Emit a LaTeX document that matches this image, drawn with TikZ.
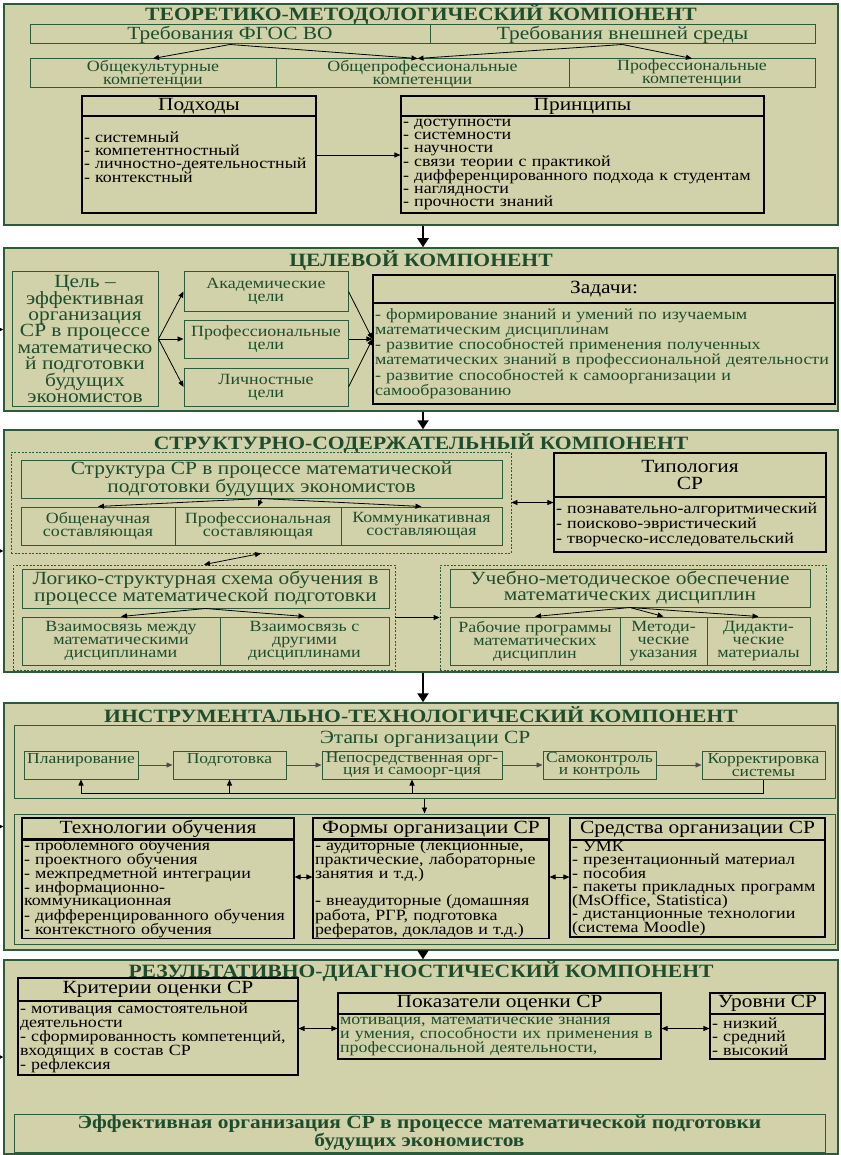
\documentclass[tikz,border=0pt]{standalone}
\usepackage{fontspec}
\setmainfont{Liberation Serif}[FakeStretch=1.15]
\usetikzlibrary{arrows.meta}

\definecolor{olivebg}{HTML}{D2D2AA}
\definecolor{darkgreen}{HTML}{2B5B3A}
\definecolor{textgreen}{HTML}{1E4D2E}

\newcommand\tightlines{\lineskiplimit=0pt\lineskip=0pt}
\newcommand\fbig{\fontsize{18.6}{16.2}\selectfont\tightlines}
\newcommand\fsmall{\fontsize{15.6}{13}\selectfont\tightlines}
\newcommand\fstage{\fontsize{15.2}{12.4}\selectfont\tightlines}
\newcommand\ftitle{\fontsize{18.8}{18}\selectfont\bfseries}

\tikzset{
  section/.style={draw=darkgreen, line width=1.5pt, fill=olivebg, inner sep=0pt},
  comptitle/.style={font=\ftitle, text=textgreen, inner sep=0pt},
  gbox/.style={draw=darkgreen, line width=1pt, text=textgreen, align=center, inner sep=0.5pt},
  stage/.style={gbox, font=\fstage, minimum height=28, inner sep=0pt},
  group/.style={draw=darkgreen, line width=0.8pt, dash pattern=on 2pt off 1.5pt, inner sep=0pt},
  bhead/.style={draw=black, line width=1.1pt, text=black, font=\fbig, align=center, inner sep=0.5pt},
  bbody/.style={draw=black, line width=1.1pt, text=black, font=\fsmall, align=left, inner xsep=2pt, inner ysep=0.5pt},
  arr/.style={line width=0.8pt, -{Triangle[length=6pt,width=5pt]}},
  garr/.style={arr, draw=black!70},
  darr/.style={line width=0.8pt, {Triangle[length=6pt,width=5pt]}-{Triangle[length=6pt,width=5pt]}},
  inarr/.style={line width=0.8pt, -{Triangle[length=4pt,width=4pt]}},
  bigarr/.style={line width=2.5pt, -{Triangle[length=9pt,width=11pt]}},
}

\begin{document}
\begin{tikzpicture}[x=1pt,y=-1pt]
\useasboundingbox (0,0) rectangle (840,1155);
\fill[white] (0,0) rectangle (840,1155);

% components
\node[section, minimum width=834, minimum height=221] (s1) at (421,114.5) {};
\node[section, minimum width=834, minimum height=163] (s2) at (421,329.5) {};
\node[section, minimum width=834, minimum height=242] (s3) at (421,551) {};
\node[section, minimum width=834, minimum height=247] (s4) at (421,826.5) {};
\node[section, minimum width=834, minimum height=194] (s5) at (421,1057) {};

\foreach \s in {s2,s3,s4,s5}
  \draw[inarr] (\s.west) ++(-4,0) -- (\s.west);

\draw[bigarr] ([xshift=2pt]s1.south) -- ([xshift=2pt]s2.north);
\draw[bigarr] ([xshift=2pt]s2.south) -- ([xshift=2pt]s3.north);
\draw[bigarr] ([xshift=2pt]s3.south) -- ([xshift=2pt]s4.north);
\draw[bigarr] ([xshift=2pt]s4.south) -- ([xshift=2pt]s5.north);

% 1
\node[comptitle] (t1) at (421,15) {ТЕОРЕТИКО-МЕТОДОЛОГИЧЕСКИЙ КОМПОНЕНТ};
\node[gbox, font=\fbig, minimum width=400, minimum height=19, inner sep=0pt] (fgos) at (230,34.5) {Требования ФГОС ВО};
\node[gbox, font=\fbig, minimum width=385, minimum height=19, inner sep=0pt] (env) at (622.5,34.5) {Требования внешней среды};
\node[gbox, font=\fontsize{15.6}{13}\selectfont\tightlines, minimum width=246, minimum height=29, inner sep=0pt] (ok) at (153,73.5) {Общекультурные\\компетенции};
\node[gbox, font=\fontsize{15.6}{13}\selectfont\tightlines, minimum width=293, minimum height=29, inner sep=0pt] (opk) at (422.5,73.5) {Общепрофессиональные\\компетенции};
\node[gbox, font=\fontsize{15.6}{13}\selectfont\tightlines, minimum width=246, minimum height=29, inner sep=0pt] (pk) at (692,73.5) {Профессиональные\\компетенции};
\draw[arr] (fgos.south) -- (ok.north);
\draw[arr] (fgos.south) -- ([xshift=-5pt]opk.north);
\draw[arr] (env.south) -- ([xshift=-5pt]opk.north);
\draw[arr] (env.south) -- (pk.north);

\node[bhead, minimum width=234, minimum height=20] (aphead) at (199,106) {Подходы};
\node[bbody, text width=230, minimum height=97] (apbody) at (199,164.5) {- системный\\- компетентностный\\- личностно-деятельностный\\- контекстный\\[2pt]\mbox{}};
\node[bhead, minimum width=363, minimum height=20] (prhead) at (582.5,106) {Принципы};
\node[bbody, text width=359, minimum height=97] (prbody) at (582.5,164.5) {- доступности\\- системности\\- научности\\- связи теории с практикой\\- дифференцированного подхода к студентам\\- наглядности\\- прочности знаний};
\draw[arr] ([yshift=9.5pt]apbody.east) -- ([yshift=9.5pt]prbody.west);

% 2
\node[comptitle] (t2) at (421,261) {ЦЕЛЕВОЙ КОМПОНЕНТ};
\node[gbox, font=\fbig, minimum width=146, minimum height=134, inner sep=0pt] (goal) at (85,339) {Цель –\\эффективная\\организация\\СР в процессе\\математическо\\й подготовки\\будущих\\экономистов};
\node[gbox, font=\fsmall, minimum width=164, minimum height=39] (acad) at (266,291.5) {Академические\\цели};
\node[gbox, font=\fsmall, minimum width=164, minimum height=38] (prof) at (266,339) {Профессиональные\\цели};
\node[gbox, font=\fsmall, minimum width=164, minimum height=38] (pers) at (266,387) {Личностные\\цели};
\draw[arr] (goal.east) -- (acad.west);
\draw[arr] (goal.east) -- (prof.west);
\draw[arr] (goal.east) -- (pers.west);

\node[bhead, minimum width=462, minimum height=28] (zhead) at (604,289) {Задачи:};
\node[bbody, text=textgreen, font=\fontsize{15.6}{15.2}\selectfont\tightlines, text width=458, minimum height=101] (zbody) at (604,353.5) {- формирование знаний и умений по изучаемым\\математическим дисциплинам\\- развитие способностей применения полученных\\математических знаний в профессиональной деятельности\\- развитие способностей к самоорганизации и\\самообразованию};
\draw[arr] (acad.east) -- (zbody.west |- prof.east);
\draw[arr] (prof.east) -- (zbody.west |- prof.east);
\draw[arr] (pers.east) -- (zbody.west |- prof.east);

% 3
\node[comptitle] (t3) at (421,443) {СТРУКТУРНО-СОДЕРЖАТЕЛЬНЫЙ КОМПОНЕНТ};
\node[group, minimum width=500, minimum height=101] (g1) at (261,502.5) {};
\node[gbox, font=\fbig, minimum width=481, minimum height=38, inner sep=0pt] (struct) at (261.5,479) {Структура СР в процессе математической\\подготовки будущих экономистов};
\node[gbox, font=\fsmall, minimum width=154, minimum height=38] (gen) at (98,526) {Общенаучная\\составляющая};
\node[gbox, font=\fsmall, minimum width=166, minimum height=38] (prc) at (258,526) {Профессиональная\\составляющая};
\node[gbox, font=\fsmall, minimum width=161, minimum height=38] (com) at (421.5,526) {Коммуникативная\\составляющая};
\draw[arr] (struct.south) -- (gen.north);
\draw[arr] (struct.south) -- (prc.north);
\draw[arr] (struct.south) -- (com.north);

\node[bhead, minimum width=272, minimum height=44] (typhead) at (690,475) {Типология\\СР};
\node[bbody, font=\fontsize{15.6}{15}\selectfont\tightlines, text width=268, minimum height=55] (typbody) at (690,524.5) {- познавательно-алгоритмический\\- поисково-эвристический\\- творческо-исследовательский};
\draw[darr] (g1.east) -- (typbody.west |- g1.east);

\node[group, minimum width=382, minimum height=105] (g2) at (204,617.5) {};
\node[gbox, font=\fbig, minimum width=367, minimum height=39, inner sep=0pt] (logic) at (205.5,588.5) {Логико-структурная схема обучения в\\процессе математической подготовки};
\node[gbox, font=\fsmall, minimum width=198, minimum height=48] (link1) at (121,641) {Взаимосвязь между\\математическими\\дисциплинами};
\node[gbox, font=\fsmall, minimum width=169, minimum height=48] (link2) at (304.5,641) {Взаимосвязь с\\другими\\дисциплинами};
\draw[arr] (logic.south) -- (link1.north);
\draw[arr] (logic.south) -- (link2.north);
\draw[darr] (g1.south) -- (g2.north);

\node[group, minimum width=386, minimum height=105] (g3) at (633,617.5) {};
\node[gbox, font=\fbig, minimum width=360, minimum height=38, inner sep=0pt] (umo) at (630,588) {Учебно-методическое обеспечение\\математических дисциплин};
\node[gbox, font=\fsmall, minimum width=170, minimum height=48] (prog) at (535,641) {Рабочие программы\\математических\\дисциплин};
\node[gbox, font=\fsmall, minimum width=87, minimum height=48] (meth) at (663.5,641) {Методи-\\ческие\\указания};
\node[gbox, font=\fsmall, minimum width=103, minimum height=48] (did) at (758.5,641) {Дидакти-\\ческие\\материалы};
\draw[arr] (umo.south) -- (prog.north);
\draw[arr] (umo.south) -- (meth.north);
\draw[arr] (umo.south) -- (did.north);
\draw[arr] (g2.east) -- (g3.west);

% 4
\node[comptitle] (t4) at (421,715) {ИНСТРУМЕНТАЛЬНО-ТЕХНОЛОГИЧЕСКИЙ КОМПОНЕНТ};
\node[gbox, minimum width=821, minimum height=73] (stages) at (424.5,761.5) {};
\node[text=textgreen, font=\fbig, inner sep=0pt] (stlabel) at (425,739) {Этапы организации СР};
\node[stage, minimum width=114] (plan) at (81,765) {Планирование\\\mbox{}};
\node[stage, minimum width=113] (prep) at (229.5,765) {Подготовка\\\mbox{}};
\node[stage, minimum width=180] (direct) at (412,765) {Непосредственная орг-\\ция и самоорг-ция};
\node[stage, minimum width=113] (selfc) at (599.5,765) {Самоконтроль\\и контроль};
\node[stage, minimum width=123] (corr) at (763.5,765) {Корректировка\\системы};
\draw[garr] (plan.east) -- (prep.west);
\draw[garr] (prep.east) -- (direct.west);
\draw[garr] (direct.east) -- (selfc.west);
\draw[garr] (selfc.east) -- (corr.west);
\draw[arr] (corr.south) -- ++(0,14) -| (plan.south);
\draw[arr] ([yshift=-14pt]prep.south) -- (prep.south);
\draw[arr] ([yshift=-14pt]direct.south) -- (direct.south);

\node[gbox, minimum width=821, minimum height=130] (tools) at (424.5,879) {};
\draw[arr] (stages.south) -- (tools.north);

\node[bhead, minimum width=272, minimum height=22] (thead) at (158,829) {Технологии обучения};
\node[bbody, text width=268, minimum height=97] (tbody) at (158,888.5) {- проблемного обучения\\- проектного обучения\\- межпредметной интеграции\\- информационно-\\коммуникационная\\- дифференцированного обучения\\- контекстного обучения};
\node[bhead, minimum width=236, minimum height=22] (fhead) at (431,829) {Формы организации СР};
\node[bbody, text width=232, minimum height=97] (fbody) at (431,888.5) {- аудиторные (лекционные,\\практические, лабораторные\\занятия и т.д.)\\[13pt]- внеаудиторные (домашняя\\работа, РГР, подготовка\\рефератов, докладов и т.д.)};
\node[bhead, minimum width=255, minimum height=22] (shead) at (697.5,829) {Средства организации СР};
\node[bbody, text width=251, minimum height=97] (sbody) at (697.5,888.5) {- УМК\\- презентационный материал\\- пособия\\- пакеты прикладных программ\\(MsOffice, Statistica)\\- дистанционные технологии\\(система Moodle)};
\draw[darr] ([yshift=11.5pt]tbody.east) -- ([yshift=11.5pt]fbody.west);
\draw[darr] ([yshift=11.5pt]fbody.east) -- ([yshift=11.5pt]sbody.west);

% 5
\node[comptitle] (t5) at (421,971) {РЕЗУЛЬТАТИВНО-ДИАГНОСТИЧЕСКИЙ КОМПОНЕНТ};
\node[bhead, minimum width=280, minimum height=23] (khead) at (158,989.5) {Критерии оценки СР};
\node[bbody, font=\fontsize{15.6}{14}\selectfont\tightlines, text width=276, minimum height=74] (kbody) at (158,1038) {- мотивация самостоятельной\\деятельности\\- сформированность компетенций,\\входящих в состав СР\\- рефлексия};
\node[bhead, minimum width=323, minimum height=21] (phead) at (499.5,1003.5) {Показатели оценки СР};
\node[bbody, text=textgreen, font=\fontsize{15.6}{12.6}\selectfont\tightlines, text width=319, minimum height=45] (pbody) at (499.5,1036.5) {мотивация, математические знания\\и умения, способности их применения в\\профессиональной деятельности,};
\node[bhead, minimum width=115, minimum height=21] (lhead) at (767.5,1003.5) {Уровни СР};
\node[bbody, font=\fontsize{15.6}{12.6}\selectfont\tightlines, text width=111, minimum height=45] (lbody) at (767.5,1036.5) {- низкий\\- средний\\- высокий};
\coordinate (pin) at ([yshift=8pt]pbody.west);
\coordinate (pout) at ([yshift=8pt]pbody.east);
\draw[darr] (kbody.east |- pin) -- (pin);
\draw[darr] (pout) -- (lbody.west |- pout);
\node[gbox, font=\fbig\bfseries, minimum width=811, minimum height=38, inner sep=0pt] (result) at (419.5,1133) {Эффективная организация СР в процессе математической подготовки\\будущих экономистов};
\end{tikzpicture}
\end{document}
